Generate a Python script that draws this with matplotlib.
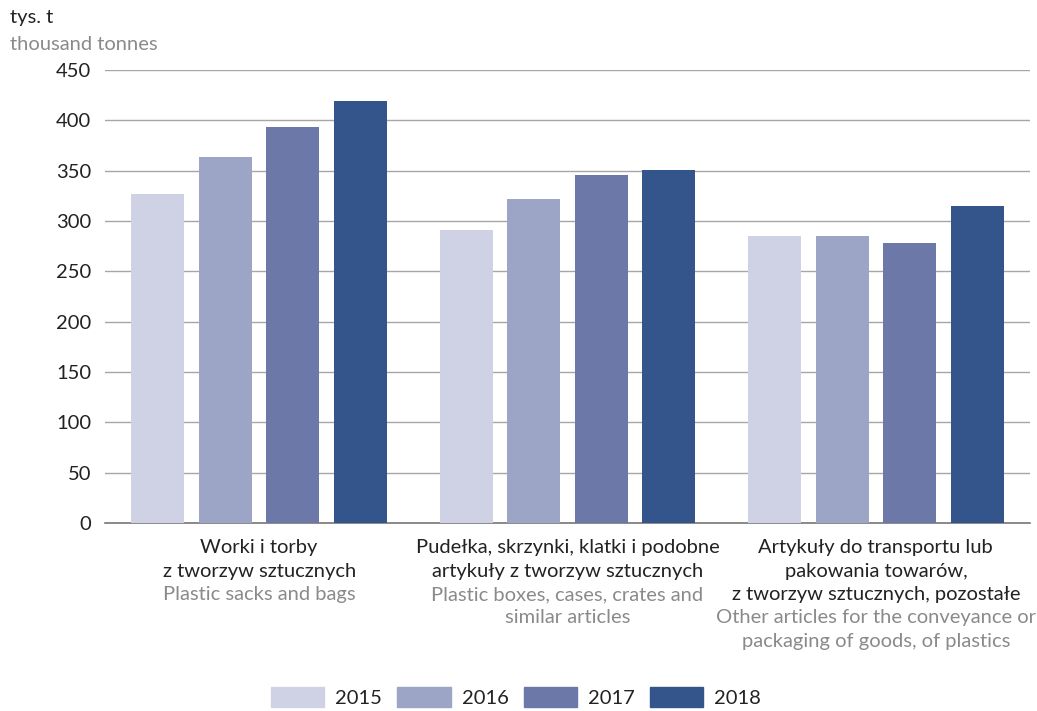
import numpy as np
import matplotlib.pyplot as plt
from matplotlib.patches import Patch
import matplotlib.transforms as mtransforms

years = ['2015', '2016', '2017', '2018']
cat_pl = [['Worki i torby', 'z tworzyw sztucznych'],
          ['Pudełka, skrzynki, klatki i podobne', 'artykuły z tworzyw sztucznych'],
          ['Artykuły do transportu lub', 'pakowania towarów,', 'z tworzyw sztucznych, pozostałe']]
cat_en = [['Plastic sacks and bags'],
          ['Plastic boxes, cases, crates and', 'similar articles'],
          ['Other articles for the conveyance or', 'packaging of goods, of plastics']]
v2015 = [327, 291, 285]
v2016 = [364, 322, 285]
v2017 = [393, 346, 278]
v2018 = [419, 351, 315]
colors = ['#cfd2e5', '#9ca5c6', '#6c78a8', '#34548c']

plt.rcParams['font.family'] = ['Lato', 'DejaVu Sans']
fs = 14.5

fig = plt.figure(figsize=(10.37, 7.11), dpi=100)
ax = fig.add_axes([105/1037, 1 - 523/711, 925/1037, 453/711])

x = np.arange(len(cat_pl))
step = 0.219
width = 0.172
for i, vals in enumerate([v2015, v2016, v2017, v2018]):
    ax.bar(x + (i - 1.5)*step, vals, width, color=colors[i], zorder=3)

ax.set_xlim(-0.5, 2.5)
ax.set_ylim(0, 450)
ax.set_yticks(np.arange(0, 451, 50))
ax.tick_params(axis='y', length=0, pad=10, labelsize=fs, labelcolor='#222222')
ax.set_xticks([])
ax.grid(axis='y', color='#a6a6a6', linewidth=1, zorder=0)
for s in ['top', 'right', 'left']:
    ax.spines[s].set_visible(False)
ax.spines['bottom'].set_color('#777777')
ax.spines['bottom'].set_linewidth(1.2)

# category labels, one line at a time (Polish dark, English grey)
trans = mtransforms.blended_transform_factory(ax.transData, fig.transFigure)
for i in range(len(cat_pl)):
    lines = [(t, '#222222') for t in cat_pl[i]] + [(t, '#8a8a8a') for t in cat_en[i]]
    for j, (t, c) in enumerate(lines):
        ax.text(x[i], 1 - (548 + j*23.3)/711, t, transform=trans, ha='center', va='center',
                fontsize=fs, color=c)

fig.text(10/1037, 1 - 17/711, 'tys. t', ha='left', va='center', fontsize=fs, color='#222222')
fig.text(10/1037, 1 - 44/711, 'thousand tonnes', ha='left', va='center', fontsize=fs, color='#8a8a8a')

handles = [Patch(color=c, label=y) for c, y in zip(colors, years)]
fig.legend(handles=handles, loc='center', bbox_to_anchor=(516/1037, 1 - 697/711), ncol=4,
           frameon=False, fontsize=fs, handlelength=2.65, handleheight=1.1,
           handletextpad=0.55, columnspacing=0.75, labelcolor='#222222')

fig.savefig('out.png', dpi=100)
